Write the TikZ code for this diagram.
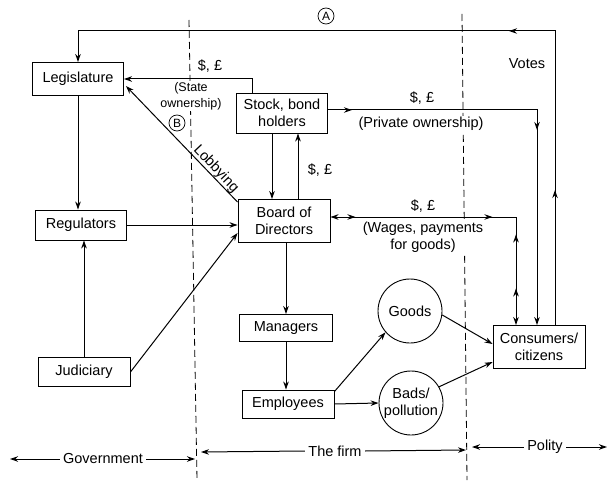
\documentclass[tikz,border=0pt]{standalone}
\usepackage{fontspec}
\setmainfont{Liberation Sans}
\usetikzlibrary{arrows.meta,decorations.markings,calc}
\begin{document}
\begin{tikzpicture}[x=1pt,y=-1pt,
  font=\fontsize{14.5}{17}\selectfont,
  >={Stealth[length=8pt,width=5.5pt]},
  box/.style 2 args={draw,line width=0.9pt,align=center,inner sep=0pt,minimum width=#1pt,minimum height=#2pt},
  circ/.style={draw,line width=0.9pt,circle,minimum size=64pt,inner sep=0pt,align=center},
  conn/.style={line width=1pt,->},
  wire/.style={line width=1pt},
  mk/.style={postaction={decorate,decoration={markings,mark=at position #1 with {\arrow{>}}}}},
  mkr/.style={postaction={decorate,decoration={markings,mark=at position #1 with {\arrowreversed{>}}}}},
  divider/.style={line width=0.8pt,dash pattern=on 7pt off 4pt},
  lbl/.style={inner sep=1pt},
  wlbl/.style={inner sep=1pt,fill=white,align=center},
  small/.style={font=\fontsize{12.5}{16}\selectfont},
  circled/.style={draw,circle,line width=0.7pt,minimum size=16pt,inner sep=0pt,font=\fontsize{12}{12}\selectfont}
]
\useasboundingbox (0,0) rectangle (610,481);

% dividers
\coordinate (d1a) at (189,20); \coordinate (d1b) at (197,480);
\coordinate (d2a) at (462,14); \coordinate (d2b) at (467,480);
\draw[divider] (d1a) -- (d1b);
\draw[divider] (d2a) -- (d2b);

% nodes
\node[box={91}{33}] (leg) at (78,79) {Legislature};
\node[box={91}{30}] (reg) at (81,225) {Regulators};
\node[box={92}{29}] (jud) at (84,372) {Judiciary};
\node[box={91}{40}] (stock) at (282,113) {Stock, bond\\holders};
\node[box={92}{43}] (board) at (284,221) {Board of\\Directors};
\node[box={93}{27}] (man) at (286,328) {Managers};
\node[box={92}{28}] (emp) at (288,404) {Employees};
\node[circ] (goods) at (410,311) {Goods};
\node[circ] (bads) at (411,403) {Bads/\\pollution};
\node[box={92}{43}] (cons) at (539,347) {Consumers/\\citizens};

% helper coordinates
\coordinate (sx) at (252,0);
\coordinate (vx) at (555,0);
\coordinate (ty) at (0,31);
\coordinate (px) at (537,0);
\coordinate (wx) at (516,0);
\coordinate (x272) at (272,0);
\coordinate (x298) at (298,0);

% government connectors
\draw[conn] (leg.south) -- (leg.south |- reg.north);
\draw[conn] (jud.north) -- (jud.north |- reg.south);
\draw[conn] (reg.east) -- (reg.east -| board.west);
\draw[conn] (jud.east) -- ($(board.west)+(0,12)$);
\draw[conn] ($(board.north west)+(0,3)$) -- ($(leg.east)+(2,7)$);

% firm connectors
\draw[conn] (stock.south -| x272) -- (board.north -| x272);
\draw[conn] (board.north -| x298) -- (stock.south -| x298);
\draw[conn] (man.north |- board.south) -- (man.north);
\draw[conn] (man.south) -- (man.south |- emp.north);
\draw[conn] ($(emp.north east)+(0,2)$) -- (goods.221);
\draw[conn] (emp.east) -- (bads.west);
\draw[conn] (goods.-7) -- ($(cons.west)+(0,-3)$);
\draw[conn] (bads.30) -- ($(cons.west)+(0,15)$);

% state ownership
\draw[conn] (stock.north -| sx) |- (leg.east);

% votes loop (A)
\draw[conn,mk=135pt,mk=340pt] (cons.north -| vx) -- (vx |- ty) -- (leg.north |- ty) -- (leg.north);

% private ownership
\draw[conn,mk=24pt,mk=229pt] ($(stock.east)+(0,-3)$) -- ($(stock.east -| px)+(0,-3)$) -- (cons.north -| px);

% wages
\draw[wire,<->,mk=25pt,mkr=203pt,mkr=257pt,mk=162pt] ($(board.east)+(0,-4)$) -- ($(board.east -| wx)+(0,-4)$) -- (cons.north -| wx);

% labels
\node[lbl] at (210,66) {\$, £};
\node[wlbl,small] at (191,96) {(State\\ownership)};
\node[circled] (A) at (326,16) {A};
\node[circled] (B) at (177,123) {B};
\node[lbl] at (527,64) {Votes};
\node[lbl] at (422,98) {\$, £};
\node[wlbl] at (421,124) {(Private ownership)};
\node[lbl] at (320,170) {\$, £};
\node[lbl] at (423,206) {\$, £};
\node[wlbl] at (423,237) {(Wages, payments\\for goods)};
\node[lbl,rotate=-46.5] at (216,169) {Lobbying};

% bottom scale
\node (gov) at (103,459) {Government};
\node (firm) at (335,451) {The firm};
\node (pol) at (545,447) {Polity};
\coordinate (g1) at (10,459); \coordinate (g2) at (195,459);
\coordinate (f1) at (201,452); \coordinate (f2) at (466,450);
\coordinate (p1) at (472,447); \coordinate (p2) at (607,447);
\draw[conn] (gov.west) -- (g1);
\draw[conn] (gov.east) -- (g2);
\draw[conn] (firm.west) -- (f1);
\draw[conn] (firm.east) -- (f2);
\draw[conn] (pol.west) -- (p1);
\draw[conn] (pol.east) -- (p2);
\end{tikzpicture}
\end{document}
